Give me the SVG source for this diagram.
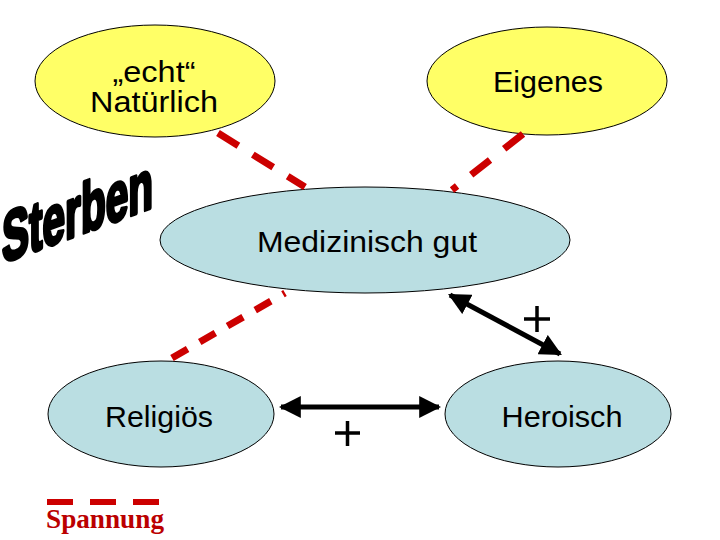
<svg xmlns="http://www.w3.org/2000/svg" width="720" height="540" viewBox="0 0 720 540">
<defs>
<style>
.yel{fill:#ffff66;stroke:#000;stroke-width:1}
.blu{fill:#badee2;stroke:#000;stroke-width:1}
.lbl{font-family:"Liberation Sans",Arial,sans-serif;font-size:30px;fill:#000;text-anchor:middle}
.dash{stroke:#cc0000;stroke-width:7;fill:none}
.arr{stroke:#000;stroke-width:5;fill:none}
.plus{stroke:#000;stroke-width:3.5}
</style>
<marker id="ah" viewBox="0 0 10 10" refX="9" refY="5" markerWidth="4.4" markerHeight="4.4" orient="auto-start-reverse" markerUnits="strokeWidth">
<path d="M0,0 L10,5 L0,10 Z" fill="#000"/>
</marker>
</defs>
<rect width="720" height="540" fill="#fff"/>

<g id="node-echt">
<ellipse class="yel" cx="155" cy="81" rx="120" ry="56"/>
<text class="lbl" x="154" y="82" textLength="83" lengthAdjust="spacingAndGlyphs">„echt“</text>
<text class="lbl" x="154" y="112" textLength="128" lengthAdjust="spacingAndGlyphs">Natürlich</text>
</g>
<g id="node-eigenes">
<ellipse class="yel" cx="547" cy="81" rx="120" ry="54"/>
<text class="lbl" x="548" y="92" textLength="110" lengthAdjust="spacingAndGlyphs">Eigenes</text>
</g>
<g id="node-medizinisch">
<ellipse class="blu" cx="365" cy="240" rx="205" ry="53"/>
<text class="lbl" x="367" y="252" textLength="220" lengthAdjust="spacingAndGlyphs">Medizinisch gut</text>
</g>
<g id="node-religioes">
<ellipse class="blu" cx="161" cy="414" rx="113" ry="53"/>
<text class="lbl" x="159" y="427" textLength="108" lengthAdjust="spacingAndGlyphs">Religiös</text>
</g>
<g id="node-heroisch">
<ellipse class="blu" cx="558" cy="414" rx="113" ry="53"/>
<text class="lbl" x="562" y="427" textLength="121" lengthAdjust="spacingAndGlyphs">Heroisch</text>
</g>

<g id="connectors">
<line class="dash" x1="218" y1="133" x2="305" y2="187" stroke-dasharray="24 17"/>
<line class="dash" x1="523" y1="134" x2="452" y2="190" stroke-dasharray="24 18"/>
<line class="dash" x1="172" y1="358" x2="285" y2="293" stroke-dasharray="18 14"/>
<line class="arr" x1="281" y1="407" x2="439" y2="407" marker-start="url(#ah)" marker-end="url(#ah)"/>
<line class="arr" x1="450" y1="295" x2="560" y2="354" marker-start="url(#ah)" marker-end="url(#ah)"/>
<path class="plus" d="M335,433 H360 M347.5,421 V446"/>
<path class="plus" d="M524,319 H550 M537,306 V332"/>
</g>

<g id="sterben">
<g transform="translate(2,263) skewY(-20.3)">
<text x="0" y="0" font-family="'Liberation Sans',Arial,sans-serif" font-weight="bold" font-size="70" fill="#000" stroke="#000" stroke-width="4" stroke-linejoin="round" textLength="151" lengthAdjust="spacingAndGlyphs">Sterben</text>
</g>
</g>

<g id="legend">
<line x1="47" y1="502" x2="160" y2="502" stroke="#cc0000" stroke-width="6" stroke-dasharray="26 17"/>
<text x="46" y="528" font-family="'Liberation Serif','Times New Roman',serif" font-weight="bold" font-size="27" fill="#bb0000" textLength="118" lengthAdjust="spacingAndGlyphs">Spannung</text>
</g>
</svg>
